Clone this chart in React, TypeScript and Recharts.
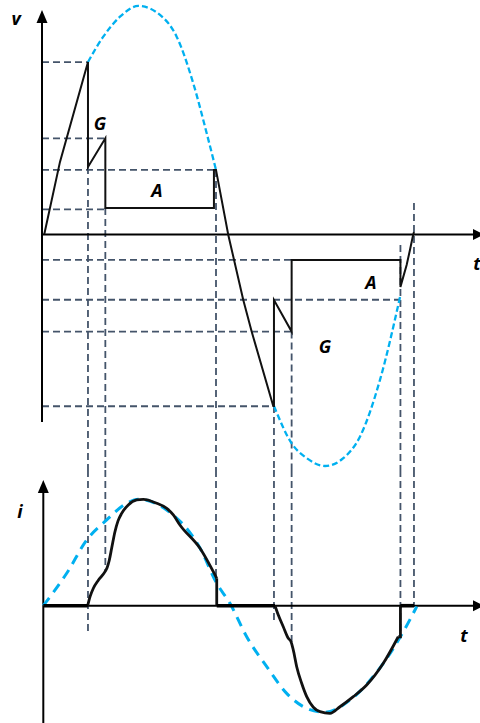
import { ComposedChart, Line, XAxis, YAxis, ReferenceLine, ReferenceDot } from 'recharts';

// t in electrical degrees, v / i in % of peak
const tDomain: [number, number] = [-40.65, 423.9];
const vDomain: [number, number] = [-102.84, 102.4];
const iDomain: [number, number] = [-109.6, 126.8];

// supply voltage (blue dashed) – only the parts not covered by the output
const vSupplyUpper = [
  { t: 44.5, v: 75.3 }, { t: 59.3, v: 86.4 }, { t: 75.5, v: 95.1 }, { t: 93.2, v: 99.8 },
  { t: 114.2, v: 95.9 }, { t: 130.3, v: 86.4 }, { t: 146.4, v: 66.0 }, { t: 159.4, v: 44.2 },
  { t: 168.4, v: 28.2 },
];
const vSupplyLower = [
  { t: 224.5, v: -74.9 }, { t: 241.6, v: -91.2 }, { t: 256.2, v: -97.7 }, { t: 273.9, v: -101.1 },
  { t: 291.6, v: -97.7 }, { t: 307.7, v: -88.3 }, { t: 327.1, v: -63.5 }, { t: 346.5, v: -27.3 },
];

// output voltage (black)
const vOutput = [
  { t: 2.2, v: 0.1 }, { t: 17.4, v: 31.7 }, { t: 44.5, v: 75.3 }, { t: 44.5, v: 29.5 },
  { t: 61.3, v: 42.0 }, { t: 61.3, v: 11.6 }, { t: 166.4, v: 11.6 }, { t: 166.4, v: 28.2 },
  { t: 168.4, v: 28.2 }, { t: 180.3, v: -0.2 }, { t: 194.8, v: -28.6 }, { t: 202.9, v: -42.4 },
  { t: 223.8, v: -74.9 }, { t: 224.5, v: -74.9 }, { t: 224.5, v: -28.6 }, { t: 241.6, v: -42.4 },
  { t: 241.6, v: -11.1 }, { t: 346.9, v: -11.1 }, { t: 346.9, v: -22.9 }, { t: 349.7, v: -18.4 },
  { t: 352.9, v: -13.3 }, { t: 356.1, v: -6.8 }, { t: 358.8, v: -1.0 }, { t: 360, v: 1.1 },
];

// switching instants and voltage levels of the guides
const hGuides = [
  { v: 75.3, t: 44.5 }, { v: 42.0, t: 61.3 }, { v: 28.2, t: 168.4 }, { v: 11.0, t: 61.3 },
  { v: -11.1, t: 241.6 }, { v: -28.5, t: 346.5 }, { v: -42.4, t: 241.6 }, { v: -75.0, t: 224.5 },
];
const vGuidesTop = [
  { t: 44.5, v: 29.5 }, { t: 61.3, v: 11.6 }, { t: 168.4, v: 28.2 }, { t: 224.5, v: -74.9 },
  { t: 241.6, v: -42.4 }, { t: 346.9, v: -4.6 }, { t: 360, v: 13.8 },
];
const vGuidesBottom = [
  { t: 44.5, i: -26.4 }, { t: 61.3, i: 32.4 }, { t: 168.4, i: 26.8 }, { t: 224.5, i: -13.4 },
  { t: 241.6, i: -34.0 }, { t: 346.9, i: -27.4 }, { t: 360, i: -1.0 },
];

// current
const iSupply = [
  { t: 1.2, i: 0 }, { t: 23.9, i: 30.3 }, { t: 43.3, i: 61.4 }, { t: 62.6, i: 80.1 },
  { t: 82.0, i: 95.7 }, { t: 93.2, i: 99.4 }, { t: 120.7, i: 89.4 }, { t: 152.9, i: 53.9 },
  { t: 169.1, i: 20.9 }, { t: 181.9, i: 2.2 }, { t: 198.1, i: -29.0 }, { t: 217.5, i: -57.0 },
  { t: 236.8, i: -81.9 }, { t: 256.2, i: -95.9 }, { t: 273.9, i: -99.6 }, { t: 298.1, i: -88.1 },
  { t: 330.3, i: -53.8 }, { t: 349.7, i: -24.3 }, { t: 362.6, i: -0.9 },
];
const iOutputPos = [
  { t: 44.2, i: 0 }, { t: 46.5, i: 8.4 }, { t: 49.7, i: 16.3 }, { t: 54.5, i: 23.8 },
  { t: 61.0, i: 31.8 }, { t: 63.0, i: 35.5 }, { t: 65.0, i: 42.0 }, { t: 67.4, i: 53.6 },
  { t: 70.6, i: 69.1 }, { t: 73.5, i: 79.0 }, { t: 77.1, i: 86.3 }, { t: 83.5, i: 94.1 },
  { t: 91.6, i: 98.8 }, { t: 98.0, i: 99.4 }, { t: 111.0, i: 95.7 }, { t: 120.7, i: 91.0 },
  { t: 127.1, i: 84.8 }, { t: 133.5, i: 75.4 }, { t: 152.9, i: 53.6 }, { t: 169.1, i: 25.6 },
];
const iOutputNeg = [
  { t: 225.5, i: 0 }, { t: 228.7, i: -8.7 }, { t: 233.5, i: -19.6 }, { t: 238.4, i: -30.5 },
  { t: 241.0, i: -33.6 }, { t: 243.2, i: -41.4 }, { t: 246.5, i: -57.0 }, { t: 251.3, i: -72.5 },
  { t: 256.2, i: -85.0 }, { t: 262.6, i: -94.9 }, { t: 269.0, i: -99.0 }, { t: 278.7, i: -100.6 },
  { t: 288.4, i: -94.4 }, { t: 301.3, i: -85.0 }, { t: 314.2, i: -74.1 }, { t: 330.3, i: -53.8 },
  { t: 344.8, i: -29.0 },
];
const iSteps = [
  [{ t: 169.1, i: 25.6 }, { t: 169.1, i: 0 }],
  [{ t: 344.8, i: -29.0 }, { t: 346.9, i: -29.0 }, { t: 346.9, i: 0 }],
];
const iZeroSpans = [[1.2, 44.2], [169.1, 225.5], [346.9, 360]];

const GUIDE = '#44546a';
const BLUE = '#00b0f0';
const FONT = "'Open Sans', 'DejaVu Sans', sans-serif";

const UpArrow = (p: any) => (
  <polygon points={`${p.cx},${p.cy} ${p.cx - 5.5},${p.cy + 13} ${p.cx + 5.5},${p.cy + 13}`} fill="#000" />
);
const RightArrow = (p: any) => (
  <polygon points={`${p.cx + 4},${p.cy} ${p.cx - 7},${p.cy - 5.5} ${p.cx - 7},${p.cy + 5.5}`} fill="#000" />
);

const labels = [
  { text: 'v', x: 16, y: 25 },
  { text: 'G', x: 100, y: 130 },
  { text: 'A', x: 157, y: 197 },
  { text: 't', x: 477, y: 270 },
  { text: 'A', x: 371, y: 289 },
  { text: 'G', x: 325, y: 353 },
  { text: 'i', x: 20, y: 518 },
  { text: 't', x: 464, y: 642 },
];

function VoltagePanel() {
  return (
    <ComposedChart width={480} height={470} margin={{ top: 0, right: 0, bottom: 0, left: 0 }}>
      <XAxis hide type="number" dataKey="t" domain={tDomain} allowDataOverflow />
      <YAxis hide type="number" domain={vDomain} allowDataOverflow />
      {hGuides.map((g, k) => (
        <ReferenceLine key={`h${k}`} segment={[{ x: 0, y: g.v }, { x: g.t, y: g.v }]} stroke={GUIDE}
          strokeWidth={1.8} strokeDasharray="7 4" ifOverflow="visible" />
      ))}
      {vGuidesTop.map((g, k) => (
        <ReferenceLine key={`v${k}`} segment={[{ x: g.t, y: g.v }, { x: g.t, y: vDomain[0] }]} stroke={GUIDE}
          strokeWidth={1.8} strokeDasharray="7 4" ifOverflow="visible" />
      ))}
      <ReferenceLine segment={[{ x: 0, y: -81.9 }, { x: 0, y: 93 }]} stroke="#000" strokeWidth={2} ifOverflow="visible" />
      <ReferenceLine segment={[{ x: 0, y: 0 }, { x: 418, y: 0 }]} stroke="#000" strokeWidth={2} ifOverflow="visible" />
      <ReferenceDot x={0} y={98} r={0} shape={UpArrow} ifOverflow="visible" />
      <ReferenceDot x={423.9} y={0} r={0} shape={RightArrow} ifOverflow="visible" />
      <Line data={vSupplyUpper} dataKey="v" type="monotone" stroke={BLUE} strokeWidth={2.3}
        strokeDasharray="6 3" dot={false} activeDot={false} isAnimationActive={false} />
      <Line data={vSupplyLower} dataKey="v" type="monotone" stroke={BLUE} strokeWidth={2.3}
        strokeDasharray="6 3" dot={false} activeDot={false} isAnimationActive={false} />
      <Line data={vOutput} dataKey="v" type="linear" stroke="#111" strokeWidth={2}
        dot={false} activeDot={false} isAnimationActive={false} />
    </ComposedChart>
  );
}

function CurrentPanel() {
  return (
    <ComposedChart width={480} height={253} margin={{ top: 0, right: 0, bottom: 0, left: 0 }}>
      <XAxis hide type="number" dataKey="t" domain={tDomain} allowDataOverflow />
      <YAxis hide type="number" domain={iDomain} allowDataOverflow />
      {vGuidesBottom.map((g, k) => (
        <ReferenceLine key={`b${k}`} segment={[{ x: g.t, y: iDomain[1] }, { x: g.t, y: g.i }]} stroke={GUIDE}
          strokeWidth={1.8} strokeDasharray="7 4" ifOverflow="visible" />
      ))}
      <ReferenceLine segment={[{ x: 1.26, y: iDomain[0] }, { x: 1.26, y: 106 }]} stroke="#000" strokeWidth={2} ifOverflow="visible" />
      <ReferenceLine segment={[{ x: 1.26, y: 0 }, { x: 418, y: 0 }]} stroke="#000" strokeWidth={2} ifOverflow="visible" />
      <ReferenceDot x={1.26} y={117.5} r={0} shape={UpArrow} ifOverflow="visible" />
      <ReferenceDot x={423.9} y={0} r={0} shape={RightArrow} ifOverflow="visible" />
      <Line data={iSupply} dataKey="i" type="monotone" stroke={BLUE} strokeWidth={3}
        strokeDasharray="10 7" dot={false} activeDot={false} isAnimationActive={false} />
      <Line data={iOutputPos} dataKey="i" type="monotone" stroke="#111" strokeWidth={2.8}
        dot={false} activeDot={false} isAnimationActive={false} />
      <Line data={iOutputNeg} dataKey="i" type="monotone" stroke="#111" strokeWidth={2.8}
        dot={false} activeDot={false} isAnimationActive={false} />
      {iSteps.map((s, k) => (
        <Line key={`s${k}`} data={s} dataKey="i" type="linear" stroke="#111" strokeWidth={2.8}
          dot={false} activeDot={false} isAnimationActive={false} />
      ))}
      {iZeroSpans.map((s, k) => (
        <Line key={`z${k}`} data={[{ t: s[0], i: 0 }, { t: s[1], i: 0 }]} dataKey="i" type="linear"
          stroke="#000" strokeWidth={3.6} dot={false} activeDot={false} isAnimationActive={false} />
      ))}
    </ComposedChart>
  );
}

export default function App() {
  return (
    <div style={{ position: 'absolute', left: 0, top: 0, width: 480, height: 723, background: '#fff', overflow: 'hidden' }}>
      <div style={{ position: 'absolute', left: 0, top: 0 }}>
        <VoltagePanel />
      </div>
      <div style={{ position: 'absolute', left: 0, top: 470 }}>
        <CurrentPanel />
      </div>
      <svg width={480} height={723} style={{ position: 'absolute', left: 0, top: 0, pointerEvents: 'none' }}>
        {labels.map((l, k) => (
          <text key={k} x={l.x} y={l.y} textAnchor="middle" fontFamily={FONT} fontWeight={700}
            fontStyle="italic" fontSize={18} fill="#000">
            {l.text}
          </text>
        ))}
      </svg>
    </div>
  );
}
